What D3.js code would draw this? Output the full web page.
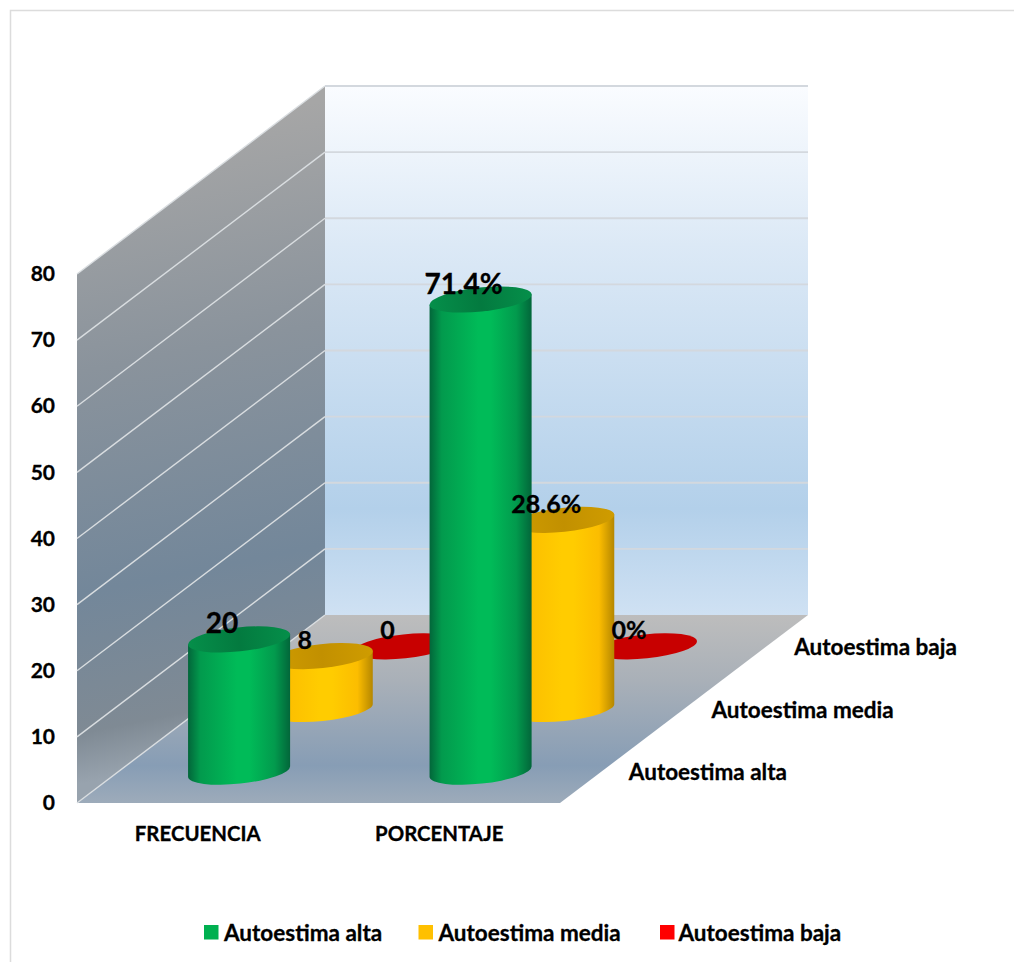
<!DOCTYPE html>
<html lang="es">
<head>
<meta charset="utf-8">
<title>Autoestima</title>
<script src="https://cdn.jsdelivr.net/npm/d3@7"></script>
<style>
  html, body { margin: 0; padding: 0; background: #fff; }
  svg { display: block; }
  text { font-family: Lato, "Open Sans", sans-serif; font-weight: 700; fill: #000; stroke: #000; stroke-width: 0.3px; }
</style>
</head>
<body>
<div id="chart"></div>
<script>
// Chart values
const categories = ["FRECUENCIA", "PORCENTAJE"];
const seriesNames = ["Autoestima alta", "Autoestima media", "Autoestima baja"];
const frecuencia = [20, 8, 0];
const porcentaje = [71.4, 28.6, 0];
const valueLabels = [["20", "8", "0"], ["71.4%", "28.6%", "0%"]];
const yTicks = [0, 10, 20, 30, 40, 50, 60, 70, 80];

// Swatch colours and cylinder shading per series
const swatch = ["#00b050", "#ffc000", "#ff0000"];
const shade = [
  { edge: "#02663a", side: "#029a4d", mid: "#00bb58", top0: "#037a3f", top1: "#058f4a" },
  { edge: "#b58700", side: "#fcbd00", mid: "#ffcc00", top0: "#c29000", top1: "#cf9c00" },
  { edge: "#c00000", side: "#c80000", mid: "#c80000", top0: "#c80000", top1: "#c80000" }
];

const width = 1014, height = 962;
const svg = d3.select("#chart").append("svg").attr("width", width).attr("height", height);
const defs = svg.append("defs");

// Oblique projection: front floor edge plus a depth vector towards the back wall
const floorLeft = 77, floorRight = 560, floorFront = 803;
const depthDX = 248, depthDY = -188;
const x = d3.scaleBand().domain(categories).range([floorLeft, floorRight]);
const y = d3.scaleLinear().domain([0, 80]).range([floorFront, floorFront - 529]);
const depth = d3.scaleBand().domain(seriesNames).range([0, 1]);
const project = (px, value, d) => [px + d * depthDX, y(value) + d * depthDY];

function gradient(id, x1, y1, x2, y2, stops, userSpace) {
  const g = defs.append("linearGradient").attr("id", id)
    .attr("x1", x1).attr("y1", y1).attr("x2", x2).attr("y2", y2);
  if (userSpace) g.attr("gradientUnits", "userSpaceOnUse");
  stops.forEach(([o, c]) => g.append("stop").attr("offset", o).attr("stop-color", c));
}

gradient("backWall", 0, 0, 0, 1, [[0, "#fafcff"], [0.3, "#dce9f6"], [0.8, "#b3d0ea"], [1, "#cfe1f3"]]);
gradient("sideWall", 77, 150, 200, 760, [[0, "#a6a6a6"], [0.35, "#8a939c"], [0.7, "#73879a"], [0.92, "#7f8a94"], [1, "#98a3ae"]], true);
gradient("floor", 0, 0, 0, 1, [[0, "#bdbdbd"], [0.35, "#a9b0b8"], [0.8, "#879db5"], [1, "#9dabba"]]);

// Frame around the chart
svg.append("path").attr("d", `M1014,10.5H10.5V962`).attr("fill", "none")
  .attr("stroke", "#dcdcdc").attr("stroke-width", 1.5);

const line = d3.line();
const area = d3.line();

// Back wall, side wall and floor
const yMax = 80;
svg.append("path").attr("fill", "url(#backWall)").attr("d", area([
  project(floorLeft, yMax, 1), project(floorRight, yMax, 1),
  project(floorRight, 0, 1), project(floorLeft, 0, 1)]) + "Z");
svg.append("path").attr("fill", "url(#sideWall)").attr("d", area([
  project(floorLeft, yMax, 0), project(floorLeft, yMax, 1),
  project(floorLeft, 0, 1), project(floorLeft, 0, 0)]) + "Z");
svg.append("path").attr("fill", "url(#floor)").attr("d", area([
  project(floorLeft, 0, 1), project(floorRight, 0, 1),
  project(floorRight, 0, 0), project(floorLeft, 0, 0)]) + "Z");

// Gridlines on both walls
const grid = svg.append("g").attr("fill", "none");
yTicks.forEach(v => {
  if (v > 0) {
    grid.append("path").attr("stroke", "#d3d8de").attr("stroke-width", 1.8)
      .attr("d", line([project(floorLeft, v, 1), project(floorRight, v, 1)]));
  }
  grid.append("path").attr("stroke", "#d9dde0").attr("stroke-width", 1.4)
    .attr("d", line([project(floorLeft, v, 0), project(floorLeft, v, 1)]));
});

// Value axis along the front edge of the side wall
const yAxis = svg.append("g").attr("transform", "translate(60,0)")
  .call(d3.axisLeft(y).tickValues(yTicks).tickSize(0).tickPadding(5));
yAxis.select(".domain").remove();
yAxis.selectAll("text").style("font-size", "21px").style("font-family", "Lato").style("font-weight", 700);

// Cylinders: slightly tilted ellipses for the caps
const cylinderWidth = 51.3, capRy = 12, tilt = -6;
const rad = tilt * Math.PI / 180;
const capDX = cylinderWidth * Math.cos(rad), capDY = cylinderWidth * Math.sin(rad);

const rows = [frecuencia, porcentaje];
shade.forEach((s, i) => {
  gradient(`body${i}`, 0, 0, 1, 0, [
    [0, s.edge], [0.12, s.side], [0.48, s.mid], [0.6, s.mid], [0.85, s.side], [1, s.edge]]);
  gradient(`cap${i}`, 0, 0, 1, 0, [[0, s.top1], [0.5, s.top0], [1, s.top1]]);
});

const marks = svg.append("g");
const labels = [];
// Back row first so nearer cylinders overlap further ones
d3.range(seriesNames.length - 1, -1, -1).forEach(si => {
  const d = depth(seriesNames[si]) + depth.bandwidth() / 2;
  categories.forEach((c, ci) => {
    const value = rows[ci][si];
    const cx = x(c) + x.bandwidth() / 2;
    const [bx, by] = project(cx, 0, d);
    const [tx, ty] = project(cx, value, d);
    if (value > 0) {
      marks.append("path").attr("fill", `url(#body${si})`).attr("d",
        `M${tx - capDX},${ty - capDY}L${bx - capDX},${by - capDY}` +
        `A${cylinderWidth},${capRy} ${tilt} 0 0 ${bx + capDX},${by + capDY}` +
        `L${tx + capDX},${ty + capDY}Z`);
    }
    marks.append("ellipse").attr("fill", `url(#cap${si})`)
      .attr("rx", cylinderWidth).attr("ry", capRy)
      .attr("transform", `translate(${tx},${ty}) rotate(${tilt})`);
    labels.push({ text: valueLabels[ci][si], x: tx - 17, y: ty - 17, si, ci });
  });
});

// Data labels sit above the nearer marks
const labelSize = si => (si === 0 ? 28 : 25);
svg.append("g").selectAll("text").data(labels).join("text")
  .attr("x", d => d.x).attr("y", d => d.y)
  .attr("text-anchor", "middle").attr("dominant-baseline", "central")
  .style("font-size", d => labelSize(d.si) + "px")
  .text(d => d.text);

// Category labels below the floor
svg.append("g").selectAll("text").data(categories).join("text")
  .attr("x", d => x(d) + x.bandwidth() / 2).attr("y", 833)
  .attr("text-anchor", "middle").attr("dominant-baseline", "central")
  .style("font-size", "20.4px").text(d => d);

// Series labels along the right floor edge
svg.append("g").selectAll("text").data(seriesNames).join("text")
  .attr("x", d => project(floorRight, 0, depth(d) + depth.bandwidth() / 2)[0] + 27.5)
  .attr("y", d => project(floorRight, 0, depth(d) + depth.bandwidth() / 2)[1])
  .attr("dominant-baseline", "central")
  .style("font-size", "22.5px").text(d => d);

// Legend
const legendX = [204, 418.5, 660];
const legend = svg.append("g").selectAll("g").data(seriesNames).join("g")
  .attr("transform", (d, i) => `translate(${legendX[i]},925)`);
legend.append("rect").attr("width", 14.5).attr("height", 14.5).attr("fill", (d, i) => swatch[i]);
legend.append("text").attr("x", (d, i) => i === 2 ? 18.5 : 20).attr("y", 7)
  .attr("dominant-baseline", "central").style("font-size", "22.5px").text(d => d);
</script>
</body>
</html>
